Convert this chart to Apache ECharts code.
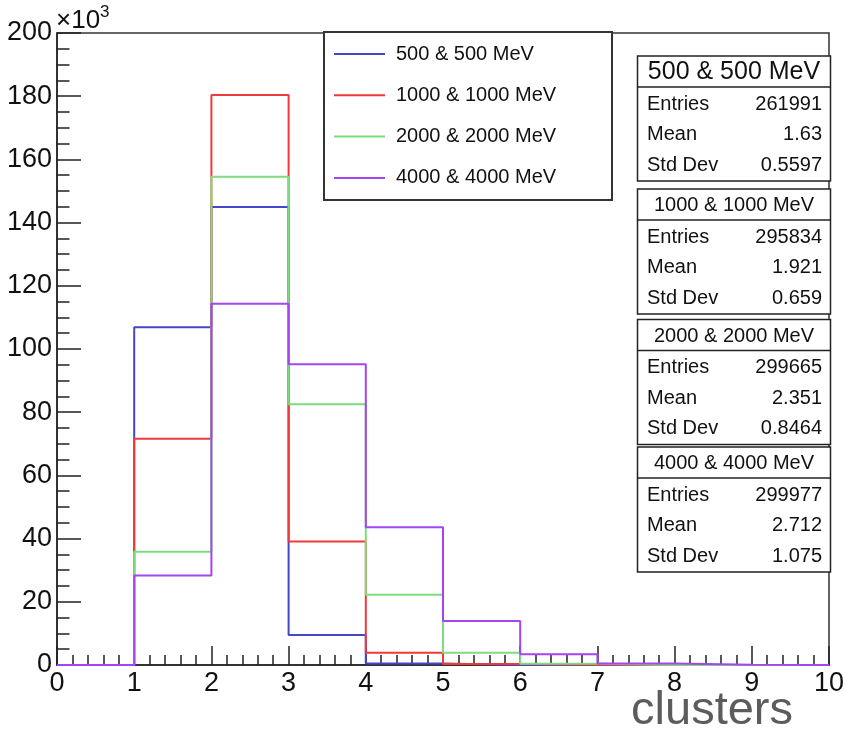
<!DOCTYPE html>
<html>
<head>
<meta charset="utf-8">
<script src="https://cdn.jsdelivr.net/npm/echarts@6/dist/echarts.min.js"></script>
<style>
  html, body { margin: 0; padding: 0; background: #fff; }
  #chart { width: 846px; height: 736px; }
</style>
</head>
<body>
<div id="chart"></div>
<script>
// Histogram binning: unit-wide bins starting at each lower edge
const binLow = [0, 1, 2, 3, 4, 5, 6, 7, 8, 9];
const xMax = 10;

// Counts per bin, in thousands (axis shows ×10^3)
const counts500  = [0, 106.9, 144.9,  9.5,  0.5,  0,    0,    0,    0,    0];
const counts1000 = [0,  71.6, 180.4, 39.1,  3.9,  0.3,  0.05, 0,    0,    0];
const counts2000 = [0,  35.8, 154.5, 82.5, 22.2,  3.9,  0.4,  0.02, 0,    0];
const counts4000 = [0,  28.3, 114.3, 95.2, 43.6, 13.9,  3.4,  0.5,  0.05, 0];

const seriesNames = ['500 & 500 MeV', '1000 & 1000 MeV', '2000 & 2000 MeV', '4000 & 4000 MeV'];
const seriesCounts = [counts500, counts1000, counts2000, counts4000];
const seriesColors = ['#4646c8', '#ee3a3a', '#7ddc7d', '#a544f2'];

const xTitle = 'clusters';

// Statistics boxes
const statEntries = ['261991', '295834', '299665', '299977'];
const statMeans   = ['1.63', '1.921', '2.351', '2.712'];
const statStdDevs = ['0.5597', '0.659', '0.8464', '1.075'];
const statLabels  = ['Entries', 'Mean', 'Std Dev'];

const FONT = '"Liberation Sans", Arial, Helvetica, sans-serif';

// Build step outline points: each bin's lower edge, plus the closing edge
function stepData(counts) {
  const d = binLow.map((x, i) => [x, counts[i]]);
  d.push([xMax, counts[counts.length - 1]]);
  return d;
}

// Stat box layout
const boxTops = [56, 189, 319.5, 447];
const boxL = 637.5, boxR = 830.5;
const titleH = 31;
const rowOffsets = [17, 47.5, 78];
const bodyH = 94;

function statGraphics() {
  const els = [];
  boxTops.forEach((top, i) => {
    const values = [statEntries[i], statMeans[i], statStdDevs[i]];
    const divY = top + titleH;
    els.push({
      type: 'rect', z: 100,
      shape: { x: boxL, y: top, width: boxR - boxL, height: titleH + bodyH },
      style: { fill: '#fff', stroke: '#222', lineWidth: 1.5 }
    });
    els.push({
      type: 'line', z: 101,
      shape: { x1: boxL, y1: divY, x2: boxR, y2: divY },
      style: { stroke: '#222', lineWidth: 1.5 }
    });
    els.push({
      type: 'text', z: 102,
      style: {
        text: seriesNames[i], x: (boxL + boxR) / 2, y: top + titleH / 2 + 1,
        fontSize: i === 0 ? 25 : 20, fontFamily: FONT, fill: '#111',
        align: 'center', verticalAlign: 'middle'
      }
    });
    statLabels.forEach((lab, r) => {
      const y = divY + rowOffsets[r];
      els.push({
        type: 'text', z: 102,
        style: { text: lab, x: boxL + 9.5, y: y, fontSize: 20, fontFamily: FONT,
                 fill: '#111', align: 'left', verticalAlign: 'middle' }
      });
      els.push({
        type: 'text', z: 102,
        style: { text: values[r], x: boxR - 8.5, y: y, fontSize: 20, fontFamily: FONT,
                 fill: '#111', align: 'right', verticalAlign: 'middle' }
      });
    });
  });
  // axis multiplier above the y axis
  els.push({
    type: 'text', z: 102,
    style: { text: '×10', x: 56, y: 21, fontSize: 26, fontFamily: FONT,
             fill: '#111', align: 'left', verticalAlign: 'middle' }
  });
  els.push({
    type: 'text', z: 102,
    style: { text: '3', x: 100, y: 12, fontSize: 17, fontFamily: FONT,
             fill: '#111', align: 'left', verticalAlign: 'middle' }
  });
  // x axis title, bottom right
  els.push({
    type: 'text', z: 102,
    style: { text: xTitle, x: 793, y: 711, fontSize: 47, fontFamily: FONT,
             fill: '#5c5c5c', align: 'right', verticalAlign: 'middle' }
  });
  return els;
}

const chart = echarts.init(document.getElementById('chart'), null, { renderer: 'canvas' });

chart.setOption({
  animation: false,
  backgroundColor: '#fff',
  grid: {
    left: 57, right: 17, top: 33, bottom: 71,
    outerBoundsMode: 'none', containLabel: false,
    show: true, borderColor: '#333', borderWidth: 1.5, backgroundColor: 'transparent'
  },
  xAxis: {
    type: 'value', min: 0, max: xMax, interval: 1,
    axisLine: { show: true, onZero: false, lineStyle: { color: '#222', width: 1.5 } },
    axisTick: { show: true, inside: true, length: 19, lineStyle: { color: '#222', width: 1.5 } },
    minorTick: { show: true, splitNumber: 5, length: 10, lineStyle: { color: '#222', width: 1.5 } },
    axisLabel: {
      fontSize: 27, fontFamily: FONT, color: '#111', margin: 5,
      showMinLabel: true, showMaxLabel: true
    },
    splitLine: { show: false }
  },
  yAxis: {
    type: 'value', min: 0, max: 200, interval: 20,
    axisLine: { show: true, onZero: false, lineStyle: { color: '#222', width: 1.5 } },
    axisTick: { show: true, inside: true, length: 24, lineStyle: { color: '#222', width: 1.5 } },
    minorTick: { show: true, splitNumber: 4, length: 12.5, lineStyle: { color: '#222', width: 1.5 } },
    axisLabel: {
      fontSize: 27, fontFamily: FONT, color: '#111', margin: 5,
      showMinLabel: true, showMaxLabel: true
    },
    splitLine: { show: false }
  },
  legend: {
    orient: 'vertical', left: 324, top: 32,
    padding: [12, 10, 12, 10], itemGap: 21.3,
    itemWidth: 51, itemHeight: 2, icon: 'rect',
    borderColor: '#333', borderWidth: 2, backgroundColor: '#fff',
    selectedMode: false,
    textStyle: {
      fontSize: 20, fontFamily: FONT, color: '#111', lineHeight: 20,
      width: 206, padding: [0, 0, 0, 6]
    },
    data: seriesNames
  },
  series: seriesNames.map((name, i) => ({
    name: name,
    type: 'line',
    step: 'end',
    symbol: 'none',
    color: seriesColors[i],
    lineStyle: { color: seriesColors[i], width: 2 },
    data: stepData(seriesCounts[i]),
    z: 2 + i
  })),
  graphic: statGraphics()
});
</script>
</body>
</html>
